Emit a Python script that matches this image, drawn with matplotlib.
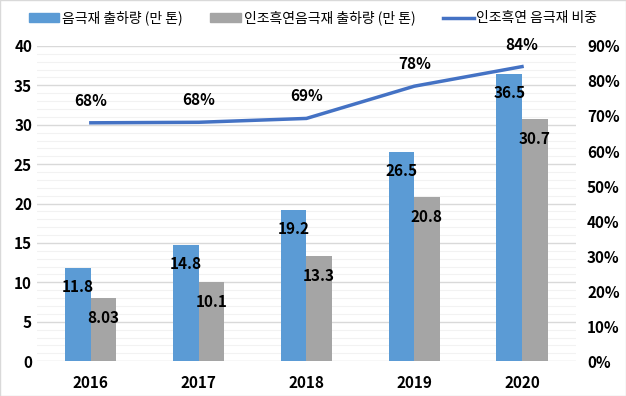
import matplotlib
matplotlib.use("Agg")
import matplotlib.pyplot as plt
import numpy as np
from matplotlib.ticker import MultipleLocator, FuncFormatter
from matplotlib.patches import Patch
from matplotlib.lines import Line2D

plt.rcParams['font.family'] = ['Noto Sans CJK KR', 'DejaVu Sans']

# data
years = ['2016', '2017', '2018', '2019', '2020']
total = [11.8, 14.8, 19.2, 26.5, 36.5]
synthetic = [8.03, 10.1, 13.3, 20.8, 30.7]
share = [68.05, 68.2, 69.3, 78.5, 84.1]
share_labels = ['68%', '68%', '69%', '78%', '84%']
total_labels = ['11.8', '14.8', '19.2', '26.5', '36.5']
synth_labels = ['8.03', '10.1', '13.3', '20.8', '30.7']

blue = '#5B9BD5'
grey = '#A5A5A5'
line_c = '#4472C4'

fig = plt.figure(figsize=(6.26, 3.96), dpi=100)
ax = fig.add_axes([0.059, 0.088, 0.861, 0.796])
x = np.arange(len(years))
w = 0.237

ax.bar(x - w/2, total, w, color=blue, zorder=3)
ax.bar(x + w/2, synthetic, w, color=grey, zorder=3)

ax.set_xlim(-0.5, 4.5)
ax.set_ylim(0, 40)
ax.yaxis.set_major_locator(MultipleLocator(5))
ax.yaxis.set_minor_locator(MultipleLocator(1))
ax.grid(axis='y', which='major', color='#D9D9D9', lw=1, zorder=0)
ax.grid(axis='y', which='minor', color='#F2F2F2', lw=0.8, zorder=0)
ax.set_xticks(x)
ax.set_xticklabels(years)
for s in ax.spines.values():
    s.set_visible(False)
ax.tick_params(axis='both', which='both', length=0, labelsize=11)
ax.tick_params(axis='x', pad=10)
for lab in ax.get_xticklabels() + ax.get_yticklabels():
    lab.set_fontweight('bold')

# value labels inside bar ends
for i in range(len(years)):
    ax.annotate(total_labels[i], (x[i] - w/2, total[i]), xytext=(0, -19),
                textcoords='offset pixels', ha='center', va='center',
                fontsize=11, fontweight='bold', zorder=5)
    ax.annotate(synth_labels[i], (x[i] + w/2, synthetic[i]), xytext=(0, -20),
                textcoords='offset pixels', ha='center', va='center',
                fontsize=11, fontweight='bold', zorder=5)

ax2 = ax.twinx()
ax2.set_ylim(0, 90)
ax2.yaxis.set_major_locator(MultipleLocator(10))
ax2.yaxis.set_major_formatter(FuncFormatter(lambda v, p: f'{v:.0f}%'))
ax2.plot(x, share, color=line_c, lw=2.5, zorder=4)
for s in ax2.spines.values():
    s.set_visible(False)
ax2.tick_params(axis='y', length=0, labelsize=11, pad=8)
for lab in ax2.get_yticklabels():
    lab.set_fontweight('bold')
for i in range(len(years)):
    ax2.annotate(share_labels[i], (x[i], share[i]), xytext=(0, 22),
                 textcoords='offset pixels', ha='center', va='center',
                 fontsize=11, fontweight='bold')

handles = [Patch(color=blue), Patch(color=grey), Line2D([0], [0], color=line_c, lw=2.5)]
names = ['음극재 출하량 (만 톤)', '인조흑연음극재 출하량 (만 톤)', '인조흑연 음극재 비중']
fig.legend(handles, names, loc='center', bbox_to_anchor=(0.5, 0.955), ncol=3,
           frameon=False, fontsize=10, handlelength=2.2, handleheight=0.6,
           handletextpad=0.2, columnspacing=2.0)

fig.add_artist(plt.Rectangle((0, 0), 1, 1, transform=fig.transFigure,
                             fill=False, edgecolor='#D9D9D9', lw=1))

fig.savefig('out.png', dpi=100)
